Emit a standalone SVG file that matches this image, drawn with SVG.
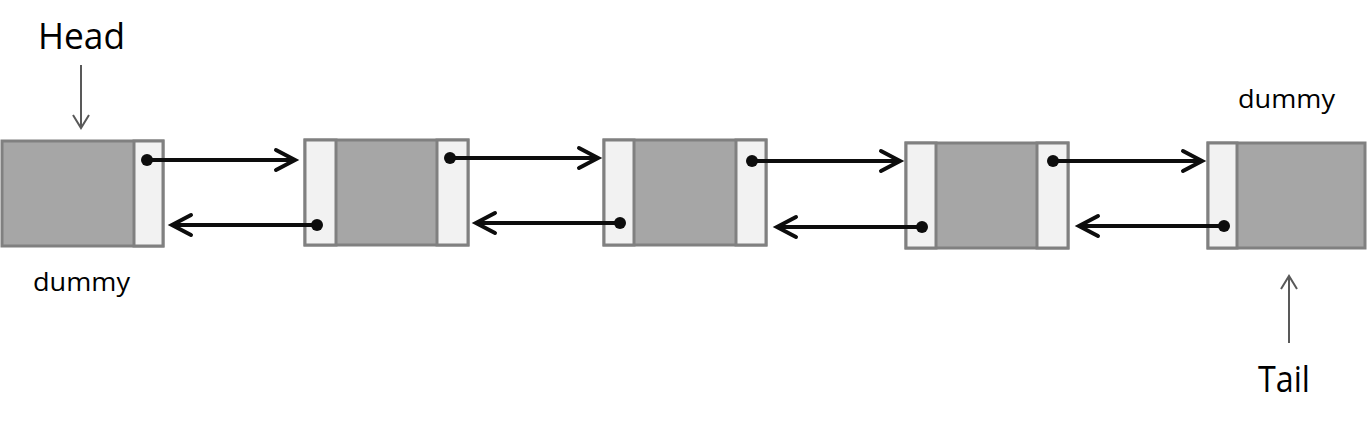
<svg xmlns="http://www.w3.org/2000/svg" width="1369" height="424" viewBox="0 0 1369 424">
<style>
.box{stroke:#808080;stroke-width:3;}
.g{fill:#a6a6a6;}
.l{fill:#f2f2f2;}
.link{stroke:#0d0d0d;stroke-width:4;fill:none;marker-end:url(#ah);marker-start:url(#dot);}
.ptr{stroke:#595959;stroke-width:2;fill:none;marker-end:url(#ah2);}
text{font-family:"Open Sans","Noto Sans","Liberation Sans",sans-serif;fill:#000;}
.big{font-size:37px;}
.sm{font-size:25px;}
</style>
<defs>
<marker id="ah" markerUnits="userSpaceOnUse" markerWidth="30" markerHeight="30" viewBox="-24 -15 30 30" refX="0" refY="0" orient="auto" overflow="visible">
<path d="M-19,-10 L0,0 L-19,10" fill="none" stroke="#0d0d0d" stroke-width="4" stroke-linecap="round" stroke-linejoin="miter"/>
</marker>
<marker id="dot" markerUnits="userSpaceOnUse" markerWidth="14" markerHeight="14" viewBox="-7 -7 14 14" refX="0" refY="0" overflow="visible">
<circle r="6" fill="#0d0d0d"/>
</marker>
<marker id="ah2" markerUnits="userSpaceOnUse" markerWidth="24" markerHeight="24" viewBox="-14 -10 24 20" refX="0" refY="0" orient="auto" overflow="visible">
<path d="M-13,-8 L0,0 L-13,8" fill="none" stroke="#595959" stroke-width="2"/>
</marker>
</defs>
<g id="node1">
<rect class="box g" x="2" y="141" width="161" height="105"/>
<rect class="box l" x="134" y="141" width="29" height="105"/>
</g>
<g id="node2">
<rect class="box g" x="305" y="140" width="163" height="105"/>
<rect class="box l" x="305" y="140" width="31" height="105"/>
<rect class="box l" x="437" y="140" width="31" height="105"/>
</g>
<g id="node3">
<rect class="box g" x="604" y="140" width="162" height="105"/>
<rect class="box l" x="604" y="140" width="30" height="105"/>
<rect class="box l" x="736" y="140" width="30" height="105"/>
</g>
<g id="node4">
<rect class="box g" x="906" y="143" width="162" height="105"/>
<rect class="box l" x="906" y="143" width="30" height="105"/>
<rect class="box l" x="1037" y="143" width="31" height="105"/>
</g>
<g id="node5">
<rect class="box g" x="1208" y="143" width="157" height="105"/>
<rect class="box l" x="1208" y="143" width="29" height="105"/>
</g>
<g id="connectors">
<line class="link" x1="147" y1="160" x2="295" y2="160"/>
<line class="link" x1="317" y1="225" x2="172" y2="225"/>
<line class="link" x1="450" y1="158" x2="598" y2="158"/>
<line class="link" x1="620" y1="223" x2="476" y2="223"/>
<line class="link" x1="752" y1="161" x2="900" y2="161"/>
<line class="link" x1="922" y1="227" x2="777" y2="227"/>
<line class="link" x1="1053" y1="161" x2="1202" y2="161"/>
<line class="link" x1="1224" y1="226" x2="1079" y2="226"/>
<line class="ptr" x1="81" y1="65" x2="81" y2="128"/>
<line class="ptr" x1="1289" y1="343" x2="1289" y2="276"/>
</g>
<g id="labels">
<text class="big" x="38" y="49" textLength="87" lengthAdjust="spacingAndGlyphs">Head</text>
<text class="sm" x="33" y="291" textLength="97" lengthAdjust="spacingAndGlyphs">dummy</text>
<text class="sm" x="1238" y="108" textLength="97" lengthAdjust="spacingAndGlyphs">dummy</text>
<text class="big" x="1258" y="392" textLength="52" lengthAdjust="spacingAndGlyphs">Tail</text>
</g>
</svg>
